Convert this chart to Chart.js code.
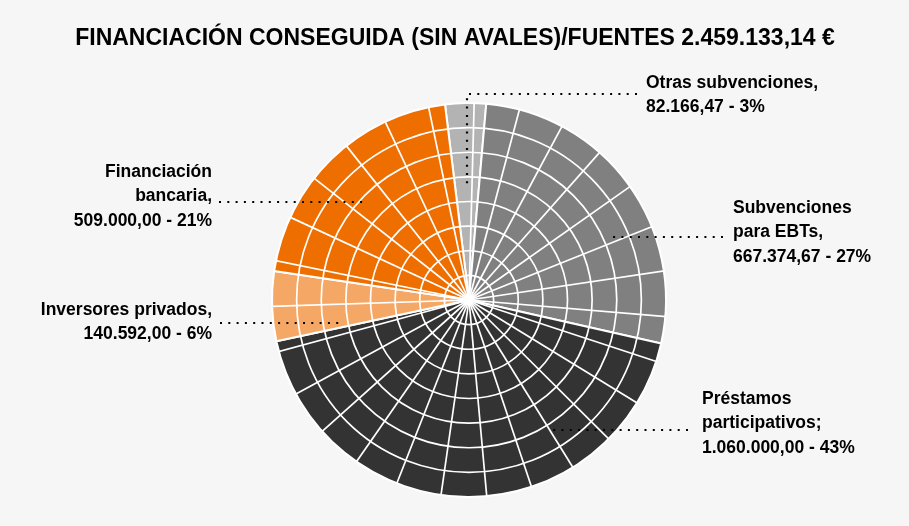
<!DOCTYPE html>
<html lang="es">
<head>
<meta charset="UTF-8">
<title>Financiación conseguida</title>
<script src="https://cdn.jsdelivr.net/npm/chart.js"></script>
<style>
  html, body { margin: 0; padding: 0; background: #f6f6f6; }
  #wrap { width: 909px; height: 526px; }
</style>
</head>
<body>
<div id="wrap"><canvas id="pieChart"></canvas></div>
<script>
const titleText = "FINANCIACIÓN CONSEGUIDA (SIN AVALES)/FUENTES 2.459.133,14 €";
const categories = ["Otras subvenciones", "Subvenciones para EBTs", "Préstamos participativos", "Inversores privados", "Financiación bancaria"];
const amounts = [82166.47, 667374.67, 1060000.00, 140592.00, 509000.00];
const amountLabels = ["82.166,47", "667.374,67", "1.060.000,00", "140.592,00", "509.000,00"];
const percentLabels = ["3%", "27%", "43%", "6%", "21%"];
const separators = [",", ",", ";", ",", ","];
const sliceColors = ["#b3b3b3", "#808080", "#333333", "#f5a766", "#ee6f00"];

const FONT = "'Liberation Sans', Arial, sans-serif";

// where each category name wraps, and where its label sits
const labelLayout = [
  { wrap: ["Otras subvenciones"], x: 646, y: 83, align: "left",
    leader: [[637, 94], [467, 94], [467, 186]] },
  { wrap: ["Subvenciones", "para EBTs"], x: 733, y: 208, align: "left",
    leader: [[723, 237], [610, 237]] },
  { wrap: ["Préstamos", "participativos"], x: 702, y: 399, align: "left",
    leader: [[688, 430], [550, 430]] },
  { wrap: ["Inversores privados"], x: 212, y: 310, align: "right",
    leader: [[220, 323], [343, 323]] },
  { wrap: ["Financiación", "bancaria"], x: 212, y: 172, align: "right",
    leader: [[219, 202], [365, 202]] }
];
const lineStep = 24.5;

// white web pattern over the pie
const webOverlay = {
  id: "webOverlay",
  afterDatasetsDraw(chart) {
    const arc = chart.getDatasetMeta(0).data[0];
    const p = arc.getProps(["x", "y", "outerRadius"], true);
    const ctx = chart.ctx;
    ctx.save();
    ctx.beginPath();
    ctx.arc(p.x, p.y, p.outerRadius, 0, Math.PI * 2);
    ctx.clip();
    ctx.strokeStyle = "#ffffff";
    ctx.lineWidth = 1.7;
    for (let k = 1; k < 8; k++) {
      ctx.beginPath();
      ctx.arc(p.x, p.y, p.outerRadius * k / 8, 0, Math.PI * 2);
      ctx.stroke();
    }
    const spokes = 27;
    for (let i = 0; i < spokes; i++) {
      const a = (1.5 + i * 360 / spokes - 90) * Math.PI / 180;
      ctx.beginPath();
      ctx.moveTo(p.x, p.y);
      ctx.lineTo(p.x + Math.cos(a) * p.outerRadius * 1.05, p.y + Math.sin(a) * p.outerRadius * 1.05);
      ctx.stroke();
    }
    ctx.restore();
  }
};

const labelsPlugin = {
  id: "sliceLabels",
  afterDraw(chart) {
    const ctx = chart.ctx;
    ctx.save();
    ctx.fillStyle = "#000000";
    ctx.font = "bold 23px " + FONT;
    ctx.textAlign = "center";
    ctx.textBaseline = "middle";
    ctx.fillText(titleText, 455, 39);

    ctx.strokeStyle = "#000000";
    ctx.lineWidth = 2.2;
    ctx.setLineDash([2, 6.3]);
    labelLayout.forEach((lay, i) => {
      ctx.beginPath();
      lay.leader.forEach((pt, j) => j ? ctx.lineTo(pt[0], pt[1]) : ctx.moveTo(pt[0], pt[1]));
      ctx.stroke();

      const lines = lay.wrap.slice();
      lines[lines.length - 1] += separators[i];
      lines.push(amountLabels[i] + " - " + percentLabels[i]);
      ctx.font = "bold 17.5px " + FONT;
      ctx.textAlign = lay.align;
      lines.forEach((t, j) => ctx.fillText(t, lay.x, lay.y + j * lineStep));
    });
    ctx.restore();
  }
};

new Chart(document.getElementById("pieChart"), {
  type: "pie",
  data: {
    labels: categories,
    datasets: [{
      data: amounts,
      backgroundColor: sliceColors,
      borderColor: "#ffffff",
      borderWidth: 2
    }]
  },
  options: {
    responsive: true,
    maintainAspectRatio: false,
    animation: false,
    rotation: -7,
    layout: { padding: { top: 102, bottom: 28, left: 271, right: 242 } },
    plugins: {
      legend: { display: false },
      tooltip: { enabled: false }
    }
  },
  plugins: [webOverlay, labelsPlugin]
});
</script>
</body>
</html>
